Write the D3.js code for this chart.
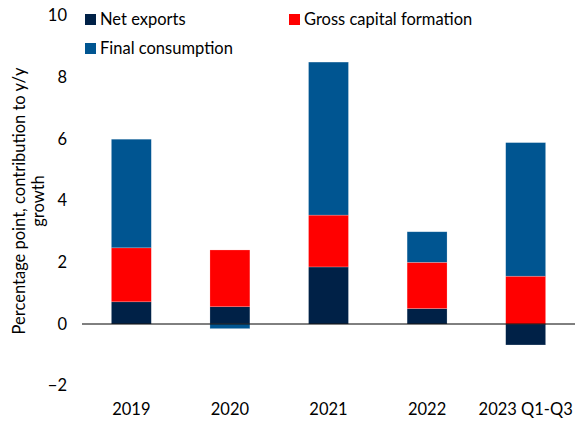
<!DOCTYPE html>
<html>
<head>
<meta charset="utf-8">
<script src="https://cdn.jsdelivr.net/npm/d3@7"></script>
<style>
  body { margin: 0; background: #fff; }
  text { font-family: Lato, "Open Sans", sans-serif; fill: #000; }
</style>
</head>
<body>
<div id="chart"></div>
<script>
const categories = ["2019", "2020", "2021", "2022", "2023 Q1-Q3"];
const netExports = [0.72, 0.56, 1.85, 0.5, -0.68];
const grossCapital = [1.75, 1.84, 1.68, 1.5, 1.55];
const finalConsumption = [3.52, -0.15, 4.96, 0.99, 4.33];
const yTicks = [-2, 0, 2, 4, 6, 8, 10];

const seriesNames = ["Net exports", "Gross capital formation", "Final consumption"];
const seriesKeys = ["ne", "gcf", "fc"];
const colors = { ne: "#002147", gcf: "#ff0000", fc: "#005591" };

const width = 575, height = 421;
const margin = { top: 15.5, right: 0, bottom: 35.3, left: 82 };
const fontSize = "16.5px";

const rows = categories.map((c, i) => ({
  cat: c, ne: netExports[i], gcf: grossCapital[i], fc: finalConsumption[i]
}));

const stacked = d3.stack()
  .keys(seriesKeys)
  .offset(d3.stackOffsetDiverging)(rows);

const x = d3.scaleBand()
  .domain(categories)
  .range([margin.left, width - margin.right])
  .paddingInner(0.595)
  .paddingOuter(0.298);

const y = d3.scaleLinear()
  .domain([-2, 10])
  .range([height - margin.bottom, margin.top]);

const svg = d3.select("#chart").append("svg")
  .attr("width", width)
  .attr("height", height);

// barres empilées
svg.append("g")
  .selectAll("g")
  .data(stacked)
  .join("g")
  .attr("fill", d => colors[d.key])
  .selectAll("rect")
  .data(d => d)
  .join("rect")
  .attr("x", d => x(d.data.cat))
  .attr("y", d => y(Math.max(d[0], d[1])))
  .attr("width", x.bandwidth())
  .attr("height", d => Math.abs(y(d[0]) - y(d[1])))
  .attr("stroke", "#ffffff")
  .attr("stroke-opacity", 0.35)
  .attr("stroke-width", 0.6);

// ligne zéro
svg.append("line")
  .attr("x1", margin.left)
  .attr("x2", width)
  .attr("y1", y(0))
  .attr("y2", y(0))
  .attr("stroke", "#000")
  .attr("stroke-width", 1);

// axe Y (labels seulement)
const yAxis = svg.append("g")
  .attr("transform", `translate(${margin.left - 15},0)`)
  .call(d3.axisLeft(y).tickValues(yTicks).tickSize(0).tickPadding(0));
yAxis.select(".domain").remove();
yAxis.selectAll("text")
  .style("font-size", fontSize)
  .style("font-family", "Lato, sans-serif");

// axe X (labels)
const xAxis = svg.append("g")
  .attr("transform", `translate(0,${height - margin.bottom})`)
  .call(d3.axisBottom(x).tickSize(0).tickPadding(18));
xAxis.select(".domain").remove();
xAxis.selectAll("text")
  .style("font-size", fontSize)
  .style("font-family", "Lato, sans-serif");

// titre axe Y
const yTitle = svg.append("text")
  .attr("transform", `translate(25,201) rotate(-90)`)
  .attr("text-anchor", "middle")
  .style("font-size", fontSize);
yTitle.append("tspan").attr("x", 0).attr("dy", 0)
  .text("Percentage point, contribution to y/y");
yTitle.append("tspan").attr("x", 0).attr("dy", 19)
  .text("growth");

// légende
const legendItems = [
  { key: "ne", label: seriesNames[0], x: 85, y: 14 },
  { key: "gcf", label: seriesNames[1], x: 289, y: 14 },
  { key: "fc", label: seriesNames[2], x: 85, y: 43 }
];
const legend = svg.append("g");
legendItems.forEach(d => {
  legend.append("rect")
    .attr("x", d.x).attr("y", d.y)
    .attr("width", 11).attr("height", 11)
    .attr("fill", colors[d.key]);
  legend.append("text")
    .attr("x", d.x + 15).attr("y", d.y + 11)
    .style("font-size", fontSize)
    .text(d.label);
});
</script>
</body>
</html>
